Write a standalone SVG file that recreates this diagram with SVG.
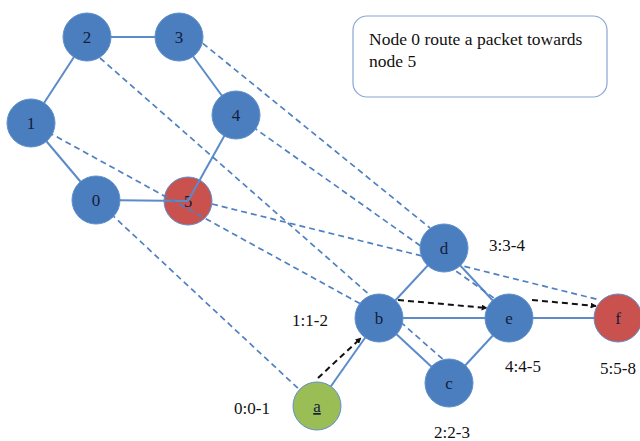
<svg xmlns="http://www.w3.org/2000/svg" width="640" height="441" viewBox="0 0 640 441">
<defs>
<style>
.n{stroke:#5e8fcc;stroke-width:1}
.blue{fill:#4a7ebf}
.red{fill:#c9524e}
.green{fill:#9bbd55}
.e{stroke:#5b8bc9;stroke-width:2;fill:none}
.v{stroke:#4f80c0;stroke-width:1.7;stroke-dasharray:6,4;fill:none}
.k{stroke:#111;stroke-width:2;stroke-dasharray:6,4;fill:none}
.t{font-family:'Liberation Serif','Times New Roman',serif;font-size:17px;fill:#14203a;text-anchor:middle}
.l{font-family:'Liberation Serif','Times New Roman',serif;font-size:17px;fill:#111;text-anchor:middle}
.b{font-family:'Liberation Serif','Times New Roman',serif;font-size:17.5px;fill:#111}
</style>
<marker id="ah" viewBox="0 0 10 10" refX="9" refY="5" markerWidth="6" markerHeight="6" markerUnits="userSpaceOnUse" orient="auto">
<path d="M0,0 L10,5 L0,10 z" fill="#111"/>
</marker>
</defs>
<rect width="640" height="441" fill="#fff"/>
<g id="box">
<rect x="353" y="16" width="254" height="81" rx="14" fill="#fff" stroke="#8aa6d2" stroke-width="1.2"/>
<text class="b" x="369" y="45">Node 0 route a packet towards</text>
<text class="b" x="369" y="67">node 5</text>
</g>
<g id="node-5"><circle class="n red" cx="188" cy="201" r="24" stroke="#d66a66"/><text class="t" x="188" y="207">5</text></g>
<g id="connectors">
<line class="e" x1="87" y1="37" x2="179" y2="37"/>
<line class="e" x1="87" y1="37" x2="31" y2="123"/>
<line class="e" x1="31" y1="123" x2="96" y2="200"/>
<line class="e" x1="96" y1="200" x2="188" y2="201"/>
<line class="e" x1="188" y1="201" x2="236" y2="115"/>
<line class="e" x1="236" y1="115" x2="179" y2="37"/>
<line class="e" x1="444" y1="248" x2="379" y2="318"/>
<line class="e" x1="444" y1="248" x2="509" y2="318"/>
<line class="e" x1="379" y1="318" x2="509" y2="318"/>
<line class="e" x1="379" y1="318" x2="449" y2="383"/>
<line class="e" x1="449" y1="383" x2="509" y2="318"/>
<line class="e" x1="509" y1="318" x2="618" y2="318"/>
<line class="e" x1="317" y1="406" x2="379" y2="318"/>
<line class="v" x1="96" y1="200" x2="317" y2="406"/>
<line class="v" x1="48" y1="132" x2="379" y2="314"/>
<line class="v" x1="100" y1="58" x2="446" y2="362"/>
<line class="v" x1="195" y1="37" x2="430" y2="228"/>
<line class="v" x1="236" y1="115" x2="494" y2="298"/>
<line class="v" x1="212" y1="204" x2="600" y2="300"/>
<line class="k" x1="318" y1="378" x2="361" y2="338" marker-end="url(#ah)"/>
<line class="k" x1="398" y1="300" x2="487" y2="308" marker-end="url(#ah)"/>
<line class="k" x1="532" y1="300" x2="596" y2="306" marker-end="url(#ah)"/>
</g>
<g id="node-2"><circle class="n blue" cx="87" cy="37" r="24"/><text class="t" x="87" y="43">2</text></g>
<g id="node-3"><circle class="n blue" cx="179" cy="37" r="24"/><text class="t" x="179" y="43">3</text></g>
<g id="node-1"><circle class="n blue" cx="31" cy="123" r="24"/><text class="t" x="31" y="129">1</text></g>
<g id="node-4"><circle class="n blue" cx="236" cy="115" r="24"/><text class="t" x="236" y="121">4</text></g>
<g id="node-0"><circle class="n blue" cx="96" cy="200" r="24"/><text class="t" x="96" y="206">0</text></g>
<g id="node-d"><circle class="n blue" cx="444" cy="248" r="24"/><text class="t" x="444" y="254">d</text></g>
<g id="node-b"><circle class="n blue" cx="379" cy="318" r="24"/><text class="t" x="379" y="324">b</text></g>
<g id="node-e"><circle class="n blue" cx="509" cy="318" r="24"/><text class="t" x="509" y="324">e</text></g>
<g id="node-c"><circle class="n blue" cx="449" cy="383" r="24"/><text class="t" x="449" y="389">c</text></g>
<g id="node-f"><circle class="n red" cx="618" cy="318" r="24" stroke="#d66a66"/><text class="t" x="618" y="324">f</text></g>
<g id="node-a"><circle class="n green" cx="317" cy="406" r="24" stroke="#a9c76c"/><text class="t" x="317" y="412" text-decoration="underline">a</text></g>
<g id="labels">
<text class="l" x="507" y="251">3:3-4</text>
<text class="l" x="310" y="326">1:1-2</text>
<text class="l" x="523" y="372">4:4-5</text>
<text class="l" x="618" y="374">5:5-8</text>
<text class="l" x="452" y="438">2:2-3</text>
<text class="l" x="252" y="414">0:0-1</text>
</g>
</svg>
